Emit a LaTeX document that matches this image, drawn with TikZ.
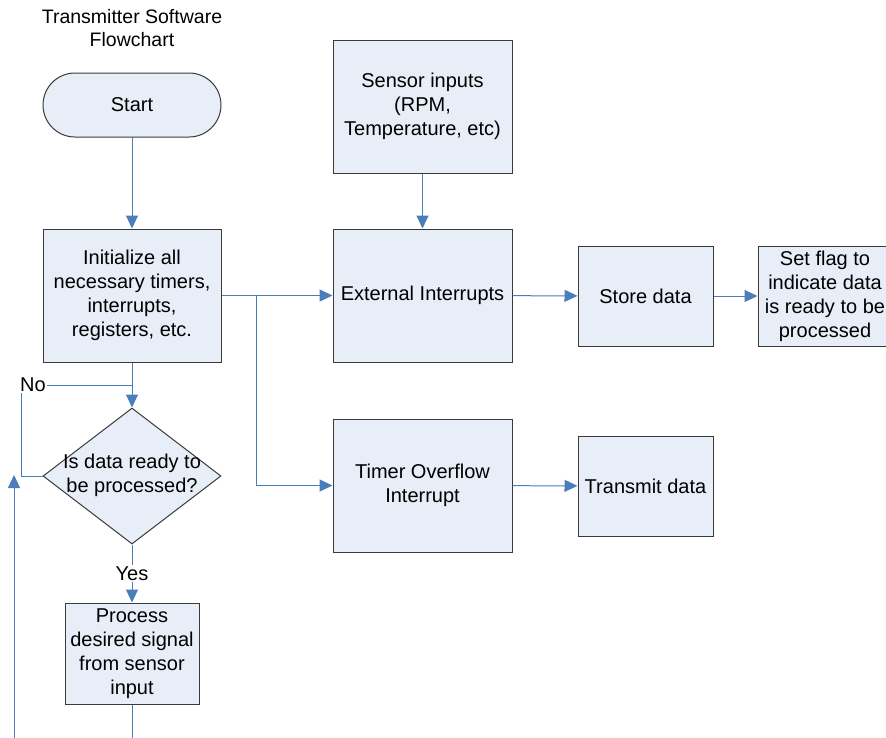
\documentclass[tikz,border=0pt]{standalone}
\usepackage{fontspec}
\setmainfont{Liberation Sans}
\usetikzlibrary{arrows.meta,shapes.geometric}
\definecolor{boxfill}{HTML}{E8EEF7}
\definecolor{linkblue}{HTML}{4A7EBB}
\definecolor{boxline}{HTML}{3A3A3A}
\tikzset{
  base/.style={draw=boxline,fill=boxfill,line width=1pt,align=center,inner sep=0pt,font=\fontsize{20}{24}\selectfont},
  arr/.style={draw=linkblue,line width=1pt,-{Triangle[length=13pt,width=12pt]}},
  plain/.style={draw=linkblue,line width=1pt},
  txt/.style={align=center,inner sep=0pt,font=\fontsize{20}{24}\selectfont},
}
\begin{document}
\begin{tikzpicture}[x=1pt,y=-1pt]
\clip (0,0) rectangle (886,737);
\fill[white] (0,0) rectangle (886,737);
% title
\node[txt,font=\fontsize{19.5}{23}\selectfont] (title) at (132,28) {Transmitter Software\\Flowchart};
% nodes
\node[base,rectangle,rounded corners=32pt,minimum width=178pt,minimum height=64pt] (start) at (132,105) {Start};
\node[base,minimum width=178pt,minimum height=133pt] (init) at (132,295.5) {Initialize all\\necessary timers,\\interrupts,\\registers, etc.};
\node[base,diamond,minimum width=178pt,minimum height=136pt] (dia) at (132,476) {};
\node[txt] (diatext) at (132,475) {Is data ready to\\be processed?};
\node[base,minimum width=134pt,minimum height=101pt] (proc) at (132,653.5) {Process\\desired signal\\from sensor\\input};
\node[base,minimum width=179pt,minimum height=133pt] (sensor) at (422.5,106.5) {Sensor inputs\\(RPM,\\Temperature, etc)};
\node[base,minimum width=179pt,minimum height=133pt] (ext) at (422.5,295.5) {External Interrupts};
\node[base,minimum width=179pt,minimum height=133pt] (timer) at (422.5,485.5) {Timer Overflow\\Interrupt};
\node[base,minimum width=135pt,minimum height=100pt] (store) at (645.5,296) {Store data};
\node[base,minimum width=135pt,minimum height=100pt] (transmit) at (645.5,486) {Transmit data};
\node[base,minimum width=134pt,minimum height=100pt] (flag) at (825,296) {Set flag to\\indicate data\\is ready to be\\processed};
% coordinates
\coordinate (branch) at (256,295.5);
\coordinate (procout) at (132,740);
\coordinate (loopin) at (14,740);
\coordinate (looptip) at (14,475);
\coordinate (nocorner) at (21,385);
\coordinate (nojoin) at (132,385);
% connectors
\draw[arr] (start) -- (init);
\draw[arr] (sensor) -- (ext);
\draw[arr] (init.east) -- (ext.west);
\draw[arr] (branch) |- (timer.west);
\draw[arr] (ext) -- (store);
\draw[arr] (store) -- (flag);
\draw[arr] (timer) -- (transmit);
\draw[arr] (init.south) -- (dia.north);
\draw[plain] (dia.west) -| (nocorner) -- (nojoin);
\node[txt,fill=white,inner sep=1pt] (nolabel) at (33,385) {No};
\draw[arr] (dia.south) -- node[txt,fill=white,inner sep=2pt] (yeslabel) {Yes} (proc.north);
\draw[plain] (proc.south) -- (procout);
\draw[arr] (loopin) -- (looptip);
\end{tikzpicture}
\end{document}
